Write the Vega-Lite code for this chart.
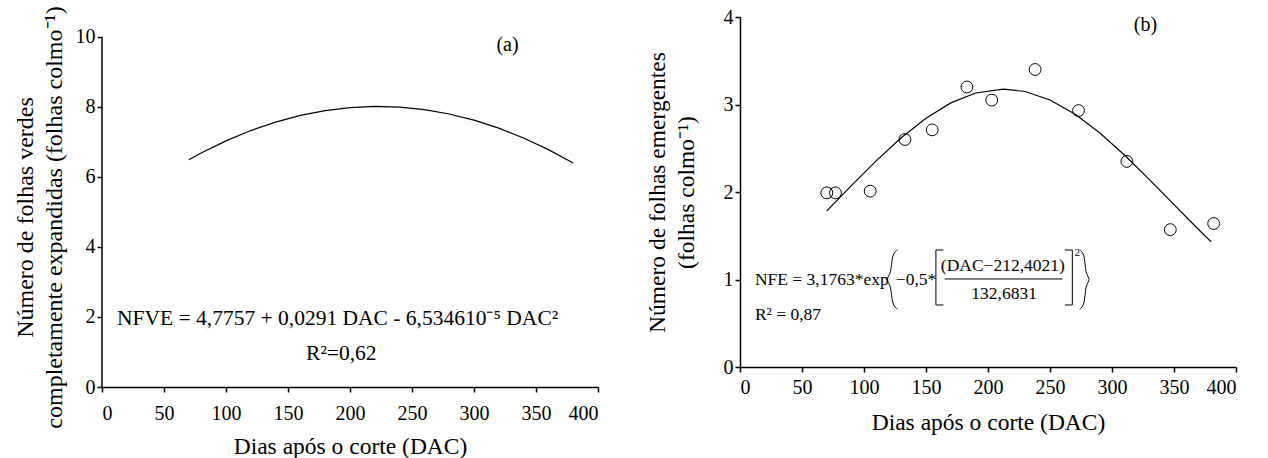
{
  "$schema": "https://vega.github.io/schema/vega-lite/v6.json",
  "background": "white",
  "padding": {"left": 13, "top": 5, "right": 5, "bottom": 0},
  "bounds": "flush",
  "spacing": 142,
  "config": {
    "font": "Liberation Serif",
    "view": {"stroke": null},
    "axis": {
      "grid": false,
      "domainColor": "black",
      "domainWidth": 1.5,
      "tickColor": "black",
      "tickWidth": 1.5,
      "tickSize": 5,
      "labelFont": "Liberation Serif",
      "labelFontSize": 20,
      "labelColor": "black",
      "titleFont": "Liberation Serif",
      "titleFontSize": 23.5,
      "titleFontWeight": "normal",
      "titleColor": "black"
    }
  },
  "datasets": {
    "curveA": [
      {"dac": 70, "nfve": 6.4925},
      {"dac": 80, "nfve": 6.6855},
      {"dac": 100, "nfve": 7.0322},
      {"dac": 120, "nfve": 7.3267},
      {"dac": 140, "nfve": 7.5689},
      {"dac": 160, "nfve": 7.7588},
      {"dac": 180, "nfve": 7.8965},
      {"dac": 200, "nfve": 7.9819},
      {"dac": 220, "nfve": 8.015},
      {"dac": 240, "nfve": 7.9958},
      {"dac": 260, "nfve": 7.9243},
      {"dac": 280, "nfve": 7.8006},
      {"dac": 300, "nfve": 7.6246},
      {"dac": 320, "nfve": 7.3963},
      {"dac": 340, "nfve": 7.1157},
      {"dac": 360, "nfve": 6.7829},
      {"dac": 380, "nfve": 6.3977}
    ],
    "curveB": [
      {"dac": 70, "nfe": 1.785},
      {"dac": 90, "nfe": 2.0757},
      {"dac": 110, "nfe": 2.3582},
      {"dac": 130, "nfe": 2.6192},
      {"dac": 150, "nfe": 2.8437},
      {"dac": 170, "nfe": 3.0182},
      {"dac": 190, "nfe": 3.1314},
      {"dac": 212.4, "nfe": 3.1763},
      {"dac": 230, "nfe": 3.1485},
      {"dac": 250, "nfe": 3.0511},
      {"dac": 270, "nfe": 2.8908},
      {"dac": 290, "nfe": 2.677},
      {"dac": 310, "nfe": 2.4232},
      {"dac": 330, "nfe": 2.1447},
      {"dac": 350, "nfe": 1.8549},
      {"dac": 370, "nfe": 1.5688},
      {"dac": 380, "nfe": 1.43}
    ],
    "pointsB": [
      {"dac": 70, "nfe": 1.99},
      {"dac": 77, "nfe": 1.99},
      {"dac": 105, "nfe": 2.01},
      {"dac": 133, "nfe": 2.6},
      {"dac": 155, "nfe": 2.71},
      {"dac": 183, "nfe": 3.2},
      {"dac": 203, "nfe": 3.05},
      {"dac": 238, "nfe": 3.4},
      {"dac": 273, "nfe": 2.93},
      {"dac": 312, "nfe": 2.35},
      {"dac": 347, "nfe": 1.57},
      {"dac": 382, "nfe": 1.64}
    ],
    "textA": [
      {"x": 327, "y": 9.77, "t": "(a)", "role": "label"},
      {"x": 190, "y": 1.94, "t": "NFVE = 4,7757 + 0,0291 DAC - 6,534610⁻⁵ DAC²", "role": "eq"},
      {"x": 193, "y": 0.94, "t": "R²=0,62", "role": "eq"}
    ],
    "textB": [
      {"x": 327, "y": 3.91, "t": "(b)", "role": "label"},
      {"x": 12, "y": 1.0, "t": "NFE = 3,1763*exp", "role": "left"},
      {"x": 12, "y": 0.59, "t": "R² = 0,87", "role": "left"},
      {"x": 142, "y": 1.0, "t": "−0,5*", "role": "mid"},
      {"x": 212, "y": 1.15, "t": "(DAC−212,4021)", "role": "mid"},
      {"x": 213, "y": 0.84, "t": "132,6831", "role": "mid"},
      {"x": 272, "y": 1.3, "t": "2", "role": "sup"}
    ],
    "segB": [
      {"x": 165, "x2": 260, "y": 1.006, "y2": 1.006},
      {"x": 158, "x2": 158, "y": 0.709, "y2": 1.337},
      {"x": 158, "x2": 164, "y": 1.337, "y2": 1.337},
      {"x": 158, "x2": 164, "y": 0.709, "y2": 0.709},
      {"x": 268, "x2": 268, "y": 0.709, "y2": 1.337},
      {"x": 262, "x2": 268, "y": 1.337, "y2": 1.337},
      {"x": 262, "x2": 268, "y": 0.709, "y2": 0.709}
    ],
    "braceB": [
      {"id": "L", "k": 1, "x": 127, "y": 1.34},
      {"id": "L", "k": 2, "x": 122.5, "y": 1.29},
      {"id": "L", "k": 3, "x": 122, "y": 1.06},
      {"id": "L", "k": 4, "x": 117, "y": 1.0},
      {"id": "L", "k": 5, "x": 122, "y": 0.94},
      {"id": "L", "k": 6, "x": 122.5, "y": 0.71},
      {"id": "L", "k": 7, "x": 127, "y": 0.66},
      {"id": "R", "k": 1, "x": 274, "y": 1.34},
      {"id": "R", "k": 2, "x": 278, "y": 1.29},
      {"id": "R", "k": 3, "x": 278.5, "y": 1.06},
      {"id": "R", "k": 4, "x": 283, "y": 1.0},
      {"id": "R", "k": 5, "x": 278.5, "y": 0.94},
      {"id": "R", "k": 6, "x": 278, "y": 0.71},
      {"id": "R", "k": 7, "x": 274, "y": 0.66}
    ],
    "axisA": [
      {"x": 0, "y": 0, "y2": 10}
    ]
  },
  "hconcat": [
    {
      "width": 496,
      "height": 370,
      "layer": [
        {
          "data": {"name": "curveA"},
          "mark": {"type": "line", "color": "black", "strokeWidth": 1.2},
          "encoding": {
            "x": {
              "field": "dac", "type": "quantitative",
              "scale": {"domain": [0, 400], "nice": false},
              "axis": {"values": [0, 50, 100, 150, 200, 250, 300, 350, 400], "title": "Dias após o corte (DAC)", "labelPadding": 11, "titlePadding": 11}
            },
            "y": {
              "field": "nfve", "type": "quantitative",
              "scale": {"domain": [0, 10.5714], "nice": false},
              "axis": {
                "values": [0, 2, 4, 6, 8, 10],
                "domain": false,
                "labelPadding": 2,
                "titlePadding": 9,
                "titleFontSize": 24,
                "titleLineHeight": 29,
                "titleY": 200,
                "title": ["Número de folhas verdes", "completamente expandidas (folhas colmo⁻¹)"]
              }
            }
          }
        },
        {
          "data": {"name": "axisA"},
          "mark": {"type": "rule", "color": "black", "strokeWidth": 1.5},
          "encoding": {
            "x": {"field": "x", "type": "quantitative"},
            "y": {"field": "y", "type": "quantitative"},
            "y2": {"field": "y2"}
          }
        },
        {
          "data": {"name": "textA"},
          "transform": [{"filter": "datum.role === 'label'"}],
          "mark": {"type": "text", "fontSize": 20, "color": "black", "align": "center", "baseline": "middle"},
          "encoding": {
            "x": {"field": "x", "type": "quantitative"},
            "y": {"field": "y", "type": "quantitative"},
            "text": {"field": "t"}
          }
        },
        {
          "data": {"name": "textA"},
          "transform": [{"filter": "datum.role === 'eq'"}],
          "mark": {"type": "text", "fontSize": 21.5, "color": "black", "align": "center", "baseline": "middle"},
          "encoding": {
            "x": {"field": "x", "type": "quantitative"},
            "y": {"field": "y", "type": "quantitative"},
            "text": {"field": "t"}
          }
        }
      ]
    },
    {
      "width": 496,
      "height": 350,
      "layer": [
        {
          "data": {"name": "curveB"},
          "mark": {"type": "line", "color": "black", "strokeWidth": 1.2},
          "encoding": {
            "x": {
              "field": "dac", "type": "quantitative",
              "scale": {"domain": [0, 400], "nice": false},
              "axis": {"values": [0, 50, 100, 150, 200, 250, 300, 350, 400], "title": "Dias após o corte (DAC)", "labelPadding": 5, "titlePadding": 13}
            },
            "y": {
              "field": "nfe", "type": "quantitative",
              "scale": {"domain": [0, 4], "nice": false},
              "axis": {
                "values": [0, 1, 2, 3, 4],
                "format": "d",
                "labelPadding": 2,
                "titlePadding": 25,
                "titleFontSize": 23.5,
                "titleLineHeight": 29,
                "title": ["Número de folhas emergentes", "(folhas colmo⁻¹)"]
              }
            }
          }
        },
        {
          "data": {"name": "pointsB"},
          "mark": {"type": "point", "shape": "circle", "filled": false, "color": "black", "strokeWidth": 1, "size": 140, "opacity": 1},
          "encoding": {
            "x": {"field": "dac", "type": "quantitative"},
            "y": {"field": "nfe", "type": "quantitative"}
          }
        },
        {
          "data": {"name": "segB"},
          "mark": {"type": "rule", "color": "black", "strokeWidth": 1},
          "encoding": {
            "x": {"field": "x", "type": "quantitative"},
            "x2": {"field": "x2"},
            "y": {"field": "y", "type": "quantitative"},
            "y2": {"field": "y2"}
          }
        },
        {
          "data": {"name": "braceB"},
          "mark": {"type": "line", "color": "black", "strokeWidth": 1, "interpolate": "basis"},
          "encoding": {
            "x": {"field": "x", "type": "quantitative"},
            "y": {"field": "y", "type": "quantitative"},
            "detail": {"field": "id"},
            "order": {"field": "k", "type": "quantitative"}
          }
        },
        {
          "data": {"name": "textB"},
          "transform": [{"filter": "datum.role === 'label'"}],
          "mark": {"type": "text", "fontSize": 20, "color": "black", "align": "center", "baseline": "middle"},
          "encoding": {
            "x": {"field": "x", "type": "quantitative"},
            "y": {"field": "y", "type": "quantitative"},
            "text": {"field": "t"}
          }
        },
        {
          "data": {"name": "textB"},
          "transform": [{"filter": "datum.role === 'left'"}],
          "mark": {"type": "text", "fontSize": 17.5, "color": "black", "align": "left", "baseline": "middle"},
          "encoding": {
            "x": {"field": "x", "type": "quantitative"},
            "y": {"field": "y", "type": "quantitative"},
            "text": {"field": "t"}
          }
        },
        {
          "data": {"name": "textB"},
          "transform": [{"filter": "datum.role === 'mid'"}],
          "mark": {"type": "text", "fontSize": 17.5, "color": "black", "align": "center", "baseline": "middle"},
          "encoding": {
            "x": {"field": "x", "type": "quantitative"},
            "y": {"field": "y", "type": "quantitative"},
            "text": {"field": "t"}
          }
        },
        {
          "data": {"name": "textB"},
          "transform": [{"filter": "datum.role === 'sup'"}],
          "mark": {"type": "text", "fontSize": 11, "color": "black", "align": "center", "baseline": "middle"},
          "encoding": {
            "x": {"field": "x", "type": "quantitative"},
            "y": {"field": "y", "type": "quantitative"},
            "text": {"field": "t"}
          }
        }
      ]
    }
  ]
}
